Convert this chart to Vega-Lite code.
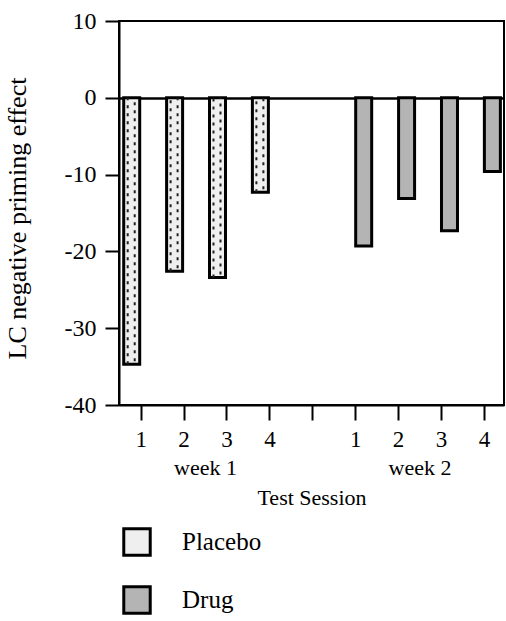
{
  "$schema": "https://vega.github.io/schema/vega-lite/v6.json",
  "width": 385,
  "height": 384,
  "autosize": {"type": "none"},
  "padding": {"left": 119, "top": 21, "right": 2, "bottom": 216},
  "background": "white",
  "config": {
    "view": {"stroke": "black", "strokeWidth": 2},
    "font": "Liberation Serif",
    "axis": {"domainColor": "black", "domainWidth": 2, "tickColor": "black", "tickWidth": 2, "labelColor": "black", "titleColor": "black", "titleFontWeight": "normal", "labelFontSize": 23, "titleFontSize": 22, "labelOverlap": false},
    "axisX": {"grid": false, "labelOverlap": false, "labelFlush": false}
  },
  "data": {
    "values": [
      {"group": "Placebo", "week": 1, "session": 1, "effect": -34.7},
      {"group": "Placebo", "week": 1, "session": 2, "effect": -22.6},
      {"group": "Placebo", "week": 1, "session": 3, "effect": -23.4},
      {"group": "Placebo", "week": 1, "session": 4, "effect": -12.3},
      {"group": "Drug", "week": 2, "session": 1, "effect": -19.3},
      {"group": "Drug", "week": 2, "session": 2, "effect": -13.1},
      {"group": "Drug", "week": 2, "session": 3, "effect": -17.3},
      {"group": "Drug", "week": 2, "session": 4, "effect": -9.6}
    ]
  },
  "transform": [{"calculate": "datum.session + (datum.week == 2 ? 5 : 0)", "as": "slot"}],
  "encoding": {
    "x": {"field": "slot", "type": "quantitative",
      "scale": {"domain": [0.494, 9.469], "nice": false, "zero": false, "padding": 0},
      "axis": {
        "title": "Test Session",
        "values": [1, 2, 2.5, 3, 4, 5, 6, 7, 7.5, 8, 9],
        "labelExpr": "datum.value == 2.5 ? 'week  1' : datum.value == 7.5 ? 'week  2' : datum.value == 5 ? '' : datum.value > 5 ? '' + (datum.value - 5) : '' + datum.value",
        "tickSize": 15,
        "tickOpacity": {"condition": {"test": "datum.value == 2.5 || datum.value == 7.5", "value": 0}, "value": 1},
        "labelPadding": {"condition": {"test": "datum.value == 2.5 || datum.value == 7.5", "value": 37}, "value": 8},
        "labelFontSize": {"condition": {"test": "datum.value == 2.5 || datum.value == 7.5", "value": 22}, "value": 23},
        "labelOverlap": false,
        "labelFlush": false,
        "labelBound": false,
        "titlePadding": 9
      }
    },
    "y": {"field": "effect", "type": "quantitative",
      "scale": {"domain": [-40, 10], "nice": false, "padding": 0},
      "axis": {
        "title": "LC negative priming effect",
        "titleFontSize": 26,
        "titleY": 197,
        "values": [-40, -30, -20, -10, 0, 10],
        "labelExpr": "'' + datum.value",
        "labelFontSize": 24,
        "tickSize": 14,
        "labelPadding": 9,
        "titlePadding": 34,
        "grid": true,
        "gridColor": "black",
        "gridWidth": 2.5,
        "gridOpacity": {"condition": {"test": "datum.value == 0", "value": 1}, "value": 0}
      }
    }
  },
  "layer": [
    {
      "transform": [{"filter": "datum.group == 'Placebo'"}],
      "mark": {"type": "bar", "xOffset": -9, "size": 16, "stroke": "black", "strokeWidth": 3},
      "encoding": {
        "fill": {"field": "group", "type": "nominal",
          "scale": {"domain": ["Placebo", "Drug"], "range": ["#efefef", "#b4b4b4"]},
          "legend": {
            "title": null,
            "orient": "none",
            "legendX": 3,
            "legendY": 506,
            "padding": 0,
            "symbolType": "square",
            "symbolSize": 700,
            "symbolStrokeColor": "black",
            "symbolStrokeWidth": 3,
            "symbolOpacity": 1,
            "labelFontSize": 25,
            "labelColor": "black",
            "labelOffset": 30,
            "rowPadding": 18
          }
        }
      }
    },
    {
      "transform": [{"filter": "datum.group == 'Placebo'"}],
      "mark": {"type": "rule", "xOffset": -13, "strokeWidth": 2, "strokeDash": [3, 5], "color": "#222"},
      "encoding": {"y2": {"datum": 0}}
    },
    {
      "transform": [{"filter": "datum.group == 'Placebo'"}],
      "mark": {"type": "rule", "xOffset": -6, "strokeWidth": 2, "strokeDash": [3, 5], "strokeDashOffset": 5, "color": "#222"},
      "encoding": {"y2": {"datum": 0}}
    },
    {
      "transform": [{"filter": "datum.group == 'Drug'"}],
      "mark": {"type": "bar", "xOffset": 8.5, "size": 16, "stroke": "black", "strokeWidth": 3},
      "encoding": {"fill": {"field": "group", "type": "nominal"}}
    }
  ]
}
